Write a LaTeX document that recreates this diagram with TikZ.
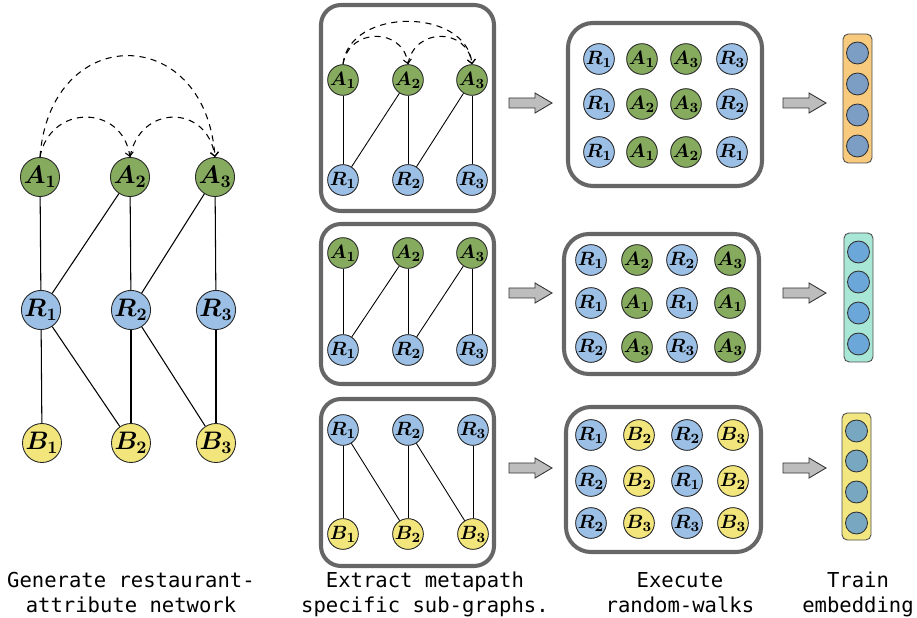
\documentclass[tikz,border=0pt]{standalone}
\usepackage{fontspec}
\setmonofont{DejaVu Sans Mono}
\usetikzlibrary{arrows.meta}
\definecolor{agreen}{HTML}{86AB5E}
\definecolor{rblue}{HTML}{9BBFE5}
\definecolor{byellow}{HTML}{F1E57C}
\definecolor{boxgray}{HTML}{666666}
\definecolor{arrgray}{HTML}{BDBDBD}
\definecolor{barorange}{HTML}{F8CA7E}
\definecolor{barteal}{HTML}{A8E6D6}
\definecolor{baryellow}{HTML}{F2E681}
\definecolor{embA}{HTML}{7D9EC4}
\definecolor{embB}{HTML}{6BA7D8}
\definecolor{embC}{HTML}{78A7C2}
\newcommand{\blockarrow}[2]{\draw[blockarr] (#1,#2) ++(0,-5) -- ++(26,0) -- ++(0,-5) -- ++(17,10) -- ++(-17,10) -- ++(0,-5) -- ++(-26,0) -- cycle;}
\begin{document}
\begin{tikzpicture}[x=0.02cm,y=-0.02cm,
  vtx/.style={circle, draw=black!85, line width=0.5pt, inner sep=0pt, text=black},
  bigv/.style={minimum size=0.76cm, font=\fontsize{14}{15}\selectfont\boldmath},
  smallv/.style={minimum size=0.6cm, font=\fontsize{11}{12}\selectfont\boldmath},
  walkv/.style={minimum size=0.58cm, font=\fontsize{11}{12}\selectfont\boldmath},
  an/.style={vtx, fill=agreen},
  rn/.style={vtx, fill=rblue},
  bn/.style={vtx, fill=byellow},
  frame/.style={draw=boxgray, line width=2.3pt, rounded corners=0.4cm},
  walkframe/.style={draw=boxgray, line width=2.3pt, rounded corners=0.5cm},
  blockarr/.style={draw=black!80, fill=arrgray, line width=0.5pt},
  bar/.style={draw=black!70, line width=0.5pt, rounded corners=3pt},
  emb/.style={circle, draw=black!80, line width=0.5pt, minimum size=0.44cm, inner sep=0pt},
  edge/.style={line width=0.6pt},
  sedge/.style={line width=0.5pt},
  arc/.style={dash pattern=on 3.5pt off 3pt, line width=0.6pt, -{Straight Barb[length=0.8mm,width=1.6mm]}},
  lab/.style={font=\ttfamily\fontsize{11.7}{14.2}\selectfont, align=center, anchor=north, inner sep=0pt}
]
\useasboundingbox (0,0) rectangle (917,618);

% ---------- left network ----------
\node[an,bigv] (la1) at (40,177) {$A_1$};
\node[an,bigv] (la2) at (130,177) {$A_2$};
\node[an,bigv] (la3) at (215,177) {$A_3$};
\node[rn,bigv] (lr1) at (41,310) {$R_1$};
\node[rn,bigv] (lr2) at (131,310) {$R_2$};
\node[rn,bigv] (lr3) at (216,310) {$R_3$};
\node[bn,bigv] (lb1) at (42,443) {$B_1$};
\node[bn,bigv] (lb2) at (131,443) {$B_2$};
\node[bn,bigv] (lb3) at (216,443) {$B_3$};
\draw[edge] (la1) -- (lr1);
\draw[edge] (la2) -- (lr1);
\draw[edge] (la2) -- (lr2);
\draw[edge] (la3) -- (lr2);
\draw[edge] (la3) -- (lr3);
\draw[edge] (lr1) -- (lb1);
\draw[edge] (lr1) -- (lb2);
\draw[edge] (lr2) -- (lb2);
\draw[edge] (lr2) -- (lb3);
\draw[edge] (lr3) -- (lb3);
\draw[arc] (la1.north) .. controls +(10,-53) and +(-8,-53) .. (la2.north);
\draw[arc] (la2.north) .. controls +(10,-53) and +(-8,-53) .. (la3.north);
\draw[arc] (la1.north) .. controls +(10,-135) and +(-10,-135) .. (la3.north);

% ---------- subgraph 1 ----------
\draw[frame] (321,5) rectangle (494,211);
\node[an,smallv] (sa1) at (343,80) {$A_1$};
\node[an,smallv] (sa2) at (408,80) {$A_2$};
\node[an,smallv] (sa3) at (472,80) {$A_3$};
\node[rn,smallv] (sr1) at (343,180) {$R_1$};
\node[rn,smallv] (sr2) at (408,180) {$R_2$};
\node[rn,smallv] (sr3) at (472,180) {$R_3$};
\draw[sedge] (sa1) -- (sr1);
\draw[sedge] (sa2) -- (sr1);
\draw[sedge] (sa2) -- (sr2);
\draw[sedge] (sa3) -- (sr2);
\draw[sedge] (sa3) -- (sr3);
\draw[arc] (sa1.north) .. controls +(6,-37) and +(-5,-37) .. (sa2.north);
\draw[arc] (sa2.north) .. controls +(6,-37) and +(-5,-37) .. (sa3.north);
\draw[arc] (sa1.north) .. controls +(6,-57) and +(-6,-57) .. (sa3.north);

% ---------- subgraph 2 ----------
\draw[frame] (321,224) rectangle (494,384);
\node[an,smallv] (ta1) at (343,253) {$A_1$};
\node[an,smallv] (ta2) at (408,253) {$A_2$};
\node[an,smallv] (ta3) at (472,253) {$A_3$};
\node[rn,smallv] (tr1) at (343,350) {$R_1$};
\node[rn,smallv] (tr2) at (408,350) {$R_2$};
\node[rn,smallv] (tr3) at (472,350) {$R_3$};
\draw[sedge] (ta1) -- (tr1);
\draw[sedge] (ta2) -- (tr1);
\draw[sedge] (ta2) -- (tr2);
\draw[sedge] (ta3) -- (tr2);
\draw[sedge] (ta3) -- (tr3);

% ---------- subgraph 3 ----------
\draw[frame] (321,399) rectangle (494,566);
\node[rn,smallv] (ur1) at (343,430) {$R_1$};
\node[rn,smallv] (ur2) at (408,430) {$R_2$};
\node[rn,smallv] (ur3) at (473,430) {$R_3$};
\node[bn,smallv] (ub1) at (343,534) {$B_1$};
\node[bn,smallv] (ub2) at (408,534) {$B_2$};
\node[bn,smallv] (ub3) at (473,534) {$B_3$};
\draw[sedge] (ur1) -- (ub1);
\draw[sedge] (ur1) -- (ub2);
\draw[sedge] (ur2) -- (ub2);
\draw[sedge] (ur2) -- (ub3);
\draw[sedge] (ur3) -- (ub3);

% ---------- block arrows ----------
\blockarrow{509}{103}
\blockarrow{509}{293}
\blockarrow{509}{468}
\blockarrow{783}{103}
\blockarrow{783}{293}
\blockarrow{783}{468}

% ---------- walks 1 ----------
\draw[walkframe] (568,23) rectangle (762,186);
\node[rn,walkv] (w1a) at (599,59) {$R_1$};
\node[an,walkv] (w1b) at (642,59) {$A_1$};
\node[an,walkv] (w1c) at (686,59) {$A_3$};
\node[rn,walkv] (w1d) at (732,59) {$R_3$};
\node[rn,walkv] (w1e) at (599,104) {$R_1$};
\node[an,walkv] (w1f) at (642,104) {$A_2$};
\node[an,walkv] (w1g) at (686,104) {$A_3$};
\node[rn,walkv] (w1h) at (732,104) {$R_2$};
\node[rn,walkv] (w1i) at (599,152) {$R_1$};
\node[an,walkv] (w1j) at (642,152) {$A_1$};
\node[an,walkv] (w1k) at (686,152) {$A_2$};
\node[rn,walkv] (w1l) at (732,152) {$R_1$};

% ---------- walks 2 ----------
\draw[walkframe] (564,234) rectangle (759,374);
\node[rn,walkv] (w2a) at (591,260) {$R_1$};
\node[an,walkv] (w2b) at (637,260) {$A_2$};
\node[rn,walkv] (w2c) at (682,260) {$R_2$};
\node[an,walkv] (w2d) at (730,260) {$A_3$};
\node[rn,walkv] (w2e) at (591,303) {$R_1$};
\node[an,walkv] (w2f) at (637,303) {$A_1$};
\node[rn,walkv] (w2g) at (682,303) {$R_1$};
\node[an,walkv] (w2h) at (730,303) {$A_1$};
\node[rn,walkv] (w2i) at (591,347) {$R_2$};
\node[an,walkv] (w2j) at (637,347) {$A_3$};
\node[rn,walkv] (w2k) at (682,347) {$R_3$};
\node[an,walkv] (w2l) at (730,347) {$A_3$};

% ---------- walks 3 ----------
\draw[walkframe] (566,407) rectangle (761,552);
\node[rn,walkv] (w3a) at (591,435) {$R_1$};
\node[bn,walkv] (w3b) at (639,435) {$B_2$};
\node[rn,walkv] (w3c) at (687,435) {$R_2$};
\node[bn,walkv] (w3d) at (733,435) {$B_3$};
\node[rn,walkv] (w3e) at (591,481) {$R_2$};
\node[bn,walkv] (w3f) at (639,481) {$B_2$};
\node[rn,walkv] (w3g) at (687,481) {$R_1$};
\node[bn,walkv] (w3h) at (733,481) {$B_2$};
\node[rn,walkv] (w3i) at (591,523) {$R_2$};
\node[bn,walkv] (w3j) at (639,523) {$B_3$};
\node[rn,walkv] (w3k) at (687,523) {$R_3$};
\node[bn,walkv] (w3l) at (733,523) {$B_3$};

% ---------- embeddings ----------
\draw[bar, fill=barorange] (843,34) rectangle (872,163);
\node[emb, fill=embA] (e1a) at (857.5,53) {};
\node[emb, fill=embA] (e1b) at (857.5,84) {};
\node[emb, fill=embA] (e1c) at (857.5,115) {};
\node[emb, fill=embA] (e1d) at (857.5,146) {};
\draw[bar, fill=barteal] (844,233) rectangle (873,362);
\node[emb, fill=embB] (e2a) at (858.5,252) {};
\node[emb, fill=embB] (e2b) at (858.5,282) {};
\node[emb, fill=embB] (e2c) at (858.5,313) {};
\node[emb, fill=embB] (e2d) at (858.5,344) {};
\draw[bar, fill=baryellow] (842,413) rectangle (871,540);
\node[emb, fill=embC] (e3a) at (856.5,431) {};
\node[emb, fill=embC] (e3b) at (856.5,461) {};
\node[emb, fill=embC] (e3c) at (856.5,492) {};
\node[emb, fill=embC] (e3d) at (856.5,523) {};

% ---------- labels ----------
\node[lab] (l1) at (131,572) {Generate restaurant-\\attribute network};
\node[lab] (l2) at (425,572) {Extract metapath\\specific sub-graphs.};
\node[lab] (l3) at (680,572) {Execute\\random-walks};
\node[lab] (l4) at (858,572) {Train\\embedding};
\end{tikzpicture}
\end{document}
